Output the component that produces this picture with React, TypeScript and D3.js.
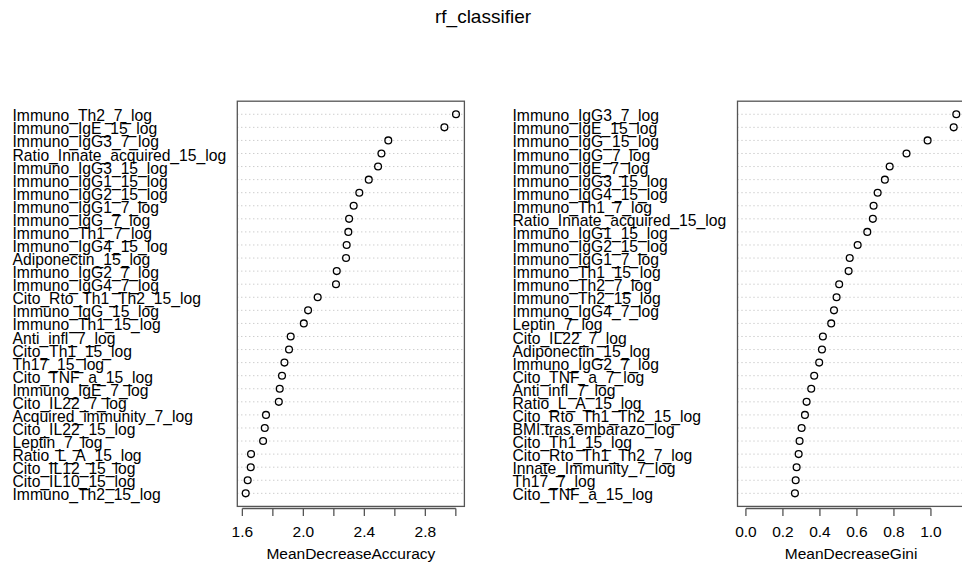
import React from "react";
import * as d3 from "d3";

const accLabels = [
  "Immuno_Th2_7_log", "Immuno_IgE_15_log", "Immuno_IgG3_7_log", "Ratio_Innate_acquired_15_log",
  "Immuno_IgG3_15_log", "Immuno_IgG1_15_log", "Immuno_IgG2_15_log", "Immuno_IgG1_7_log",
  "Immuno_IgG_7_log", "Immuno_Th1_7_log", "Immuno_IgG4_15_log", "Adiponectin_15_log",
  "Immuno_IgG2_7_log", "Immuno_IgG4_7_log", "Cito_Rto_Th1_Th2_15_log", "Immuno_IgG_15_log",
  "Immuno_Th1_15_log", "Anti_infl_7_log", "Cito_Th1_15_log", "Th17_15_log",
  "Cito_TNF_a_15_log", "Immuno_IgE_7_log", "Cito_IL22_7_log", "Acquired_immunity_7_log",
  "Cito_IL22_15_log", "Leptin_7_log", "Ratio_L_A_15_log", "Cito_IL12_15_log",
  "Cito_IL10_15_log", "Immuno_Th2_15_log",
];
const accValues = [
  3.001, 2.925, 2.557, 2.512, 2.49, 2.429, 2.367, 2.33, 2.3, 2.295, 2.284, 2.28, 2.219, 2.214, 2.094,
  2.031, 2.003, 1.917, 1.906, 1.876, 1.86, 1.845, 1.839, 1.755, 1.747, 1.736, 1.657, 1.655, 1.635, 1.622,
];
const giniLabels = [
  "Immuno_IgG3_7_log", "Immuno_IgE_15_log", "Immuno_IgG_15_log", "Immuno_IgG_7_log",
  "Immuno_IgE_7_log", "Immuno_IgG3_15_log", "Immuno_IgG4_15_log", "Immuno_Th1_7_log",
  "Ratio_Innate_acquired_15_log", "Immuno_IgG1_15_log", "Immuno_IgG2_15_log", "Immuno_IgG1_7_log",
  "Immuno_Th1_15_log", "Immuno_Th2_7_log", "Immuno_Th2_15_log", "Immuno_IgG4_7_log",
  "Leptin_7_log", "Cito_IL22_7_log", "Adiponectin_15_log", "Immuno_IgG2_7_log",
  "Cito_TNF_a_7_log", "Anti_infl_7_log", "Ratio_L_A_15_log", "Cito_Rto_Th1_Th2_15_log",
  "BMI.tras.embarazo_log", "Cito_Th1_15_log", "Cito_Rto_Th1_Th2_7_log", "Innate_Immunity_7_log",
  "Th17_7_log", "Cito_TNF_a_15_log",
];
const giniValues = [
  1.137, 1.123, 0.982, 0.868, 0.777, 0.751, 0.712, 0.69, 0.686, 0.656, 0.604, 0.561, 0.555, 0.504, 0.49,
  0.476, 0.461, 0.416, 0.411, 0.396, 0.369, 0.353, 0.328, 0.319, 0.301, 0.29, 0.285, 0.274, 0.269, 0.265,
];
const accTicks = [1.6, 1.8, 2.0, 2.2, 2.4, 2.6, 2.8, 3.0];
const accTickLabels = ["1.6", "", "2.0", "", "2.4", "", "2.8", ""];
const giniTicks = [0, 0.2, 0.4, 0.6, 0.8, 1.0];
const giniTickLabels = ["0.0", "0.2", "0.4", "0.6", "0.8", "1.0"];

const FONT = "'Liberation Sans', Arial, Helvetica, sans-serif";

function Panel(props: {
  labels: string[]; values: number[]; xmin: number; xmax: number;
  left: number; right: number; labelX: number; ticks: number[]; tickLabels: string[]; title: string;
}) {
  const { labels, values, xmin, xmax, left, right, labelX, ticks, tickLabels, title } = props;
  const top = 101.2, bottom = 506.4;
  const n = values.length;
  const pad = (xmax - xmin) * 0.04;
  const x = d3.scaleLinear().domain([xmin - pad, xmax + pad]).range([left, right]);
  const y = d3.scaleLinear().domain([0, n + 1]).range([top, bottom]);
  const axisY = 508.5;
  const center = (left + right) / 2;
  return (
    <g>
      {values.map((v, i) => (
        <line key={"g" + i} x1={left} x2={right} y1={y(i + 1)} y2={y(i + 1)}
          stroke="#b8b8b8" strokeWidth={1} strokeDasharray="1,3" />
      ))}
      {values.map((v, i) => (
        <circle key={"c" + i} cx={x(v)} cy={y(i + 1)} r={3.4} fill="none" stroke="#000" strokeWidth={1.3} />
      ))}
      {labels.map((l, i) => (
        <text key={"l" + i} x={labelX} y={y(i + 1)} dy="0.45em" fontSize={15.7} fontFamily={FONT} fill="#000">{l}</text>
      ))}
      <rect x={left} y={top} width={right - left} height={bottom - top} fill="none" stroke="#555" strokeWidth={1.3} />
      <line x1={x(ticks[0])} x2={x(ticks[ticks.length - 1])} y1={axisY} y2={axisY} stroke="#555" strokeWidth={1.3} />
      {ticks.map((t, i) => (
        <g key={"t" + i}>
          <line x1={x(t)} x2={x(t)} y1={axisY} y2={axisY + 7.5} stroke="#555" strokeWidth={1.3} />
          <text x={x(t)} y={537} textAnchor="middle" fontSize={15.5} fontFamily={FONT}>{tickLabels[i]}</text>
        </g>
      ))}
      <text x={center} y={559} textAnchor="middle" fontSize={15.5} fontFamily={FONT}>{title}</text>
    </g>
  );
}

export default function App() {
  return (
    <svg width={962} height={567} style={{ position: "absolute", left: 0, top: 0, background: "#fff" }}>
      <rect x={0} y={0} width={962} height={567} fill="#fff" />
      <text x={483} y={22.7} textAnchor="middle" fontSize={19} fontFamily={FONT}>rf_classifier</text>
      <Panel labels={accLabels} values={accValues} xmin={d3.min(accValues)!} xmax={d3.max(accValues)!}
        left={237.3} right={464.4} labelX={12.5} ticks={accTicks} tickLabels={accTickLabels} title="MeanDecreaseAccuracy" />
      <Panel labels={giniLabels} values={giniValues} xmin={0} xmax={d3.max(giniValues)!}
        left={737.5} right={964.7} labelX={512.5} ticks={giniTicks} tickLabels={giniTickLabels} title="MeanDecreaseGini" />
    </svg>
  );
}
